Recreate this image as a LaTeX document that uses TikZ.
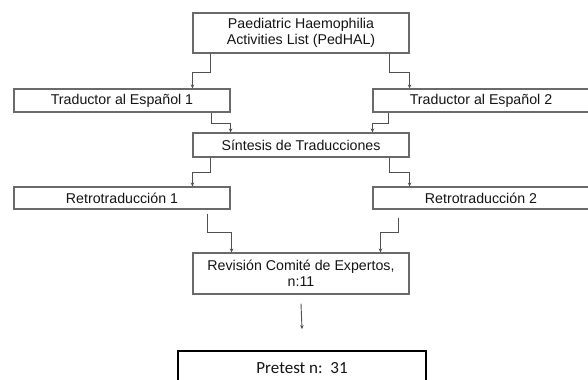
\documentclass[tikz,border=0pt]{standalone}
\usepackage{fontspec}
\setmainfont{Liberation Sans}
\newfontfamily\calib{Carlito}
\usetikzlibrary{calc,arrows.meta}
\definecolor{boxgray}{HTML}{6A6A6A}
\definecolor{conngray}{HTML}{505050}
\definecolor{txt}{HTML}{141414}
\tikzset{
  box/.style={draw=boxgray, line width=1.1bp, minimum width=216bp, inner sep=0pt, align=center,
    text=txt, font=\fontsize{14.2bp}{16.5bp}\selectfont},
  conn/.style={draw=conngray, line width=0.9bp, -{Stealth[length=4bp,width=3.5bp]}},
  prebox/.style={draw=black, line width=1.6bp, minimum width=248bp, minimum height=34bp, inner sep=0pt,
    text=txt, font=\calib\fontsize{17bp}{20bp}\selectfont}
}
\begin{document}
\begin{tikzpicture}[x=1bp,y=-1bp]
\useasboundingbox (0,0) rectangle (588,379);
\clip (0,0) rectangle (588,379);
\node[box, minimum height=40bp] (top) at (301,33) {Paediatric Haemophilia\\Activities List (PedHAL)};
\node[box, minimum height=23bp] (t1) at (122,100.5) {Traductor al Español 1};
\node[box, minimum height=23bp] (t2) at (481,100.5) {Traductor al Español 2};
\node[box, minimum height=24bp] (syn) at (301,145) {Síntesis de Traducciones};
\node[box, minimum height=22bp] (r1) at (122,198) {Retrotraducción 1};
\node[box, minimum height=22bp] (r2) at (481,198) {Retrotraducción 2};
\node[box, minimum height=41bp] (rev) at (301,273.5) {Revisión Comité de Expertos,\\n:11};
\node[prebox] (pre) at (302,368) {Pretest n:\ \ 31};

\draw[conn] ([xshift=18bp]top.south west) -- ++(0,19) -| (t1.north -| top.west);
\draw[conn] ([xshift=-20bp]top.south east) -- ++(0,19) -| (t2.north -| top.east);
\draw[conn] ([xshift=-19bp]t1.south east) -- ++(0,11) -| (syn.north -| t1.east);
\draw[conn] ([xshift=16bp]t2.south west) -- ++(0,11) -| (syn.north -| t2.west);
\draw[conn] ([xshift=18bp]syn.south west) -- ++(0,15) -| (r1.north -| syn.west);
\draw[conn] ([xshift=-20bp]syn.south east) -- ++(0,15) -| (r2.north -| syn.east);
\draw[conn] ($(r1.south east)+(-23,4)$) -- ++(0,19) -| ($(rev.north -| r1.east)+(1,0)$);
\draw[conn] ($(r2.south west)+(26,8)$) -- ++(0,15) -| ($(rev.north -| r2.west)+(8,0)$);
\draw[conn] ($(rev.south)+(0,9)$) -- ($(pre.north)+(0,-21)$);
\end{tikzpicture}
\end{document}
